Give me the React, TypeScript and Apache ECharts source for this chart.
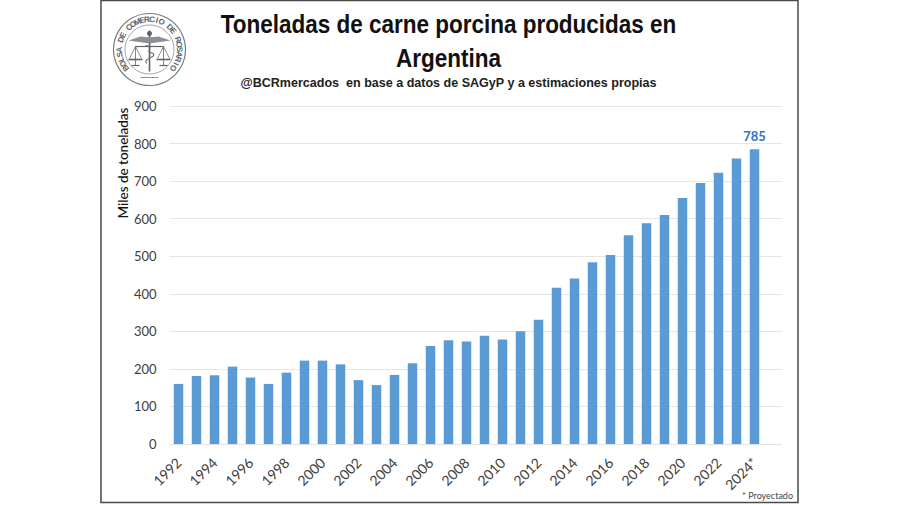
import React, { useEffect, useRef } from "react";
import * as echarts from "echarts";

const years = [
  "1992","1993","1994","1995","1996","1997","1998","1999","2000","2001","2002",
  "2003","2004","2005","2006","2007","2008","2009","2010","2011","2012","2013",
  "2014","2015","2016","2017","2018","2019","2020","2021","2022","2023","2024*","",
];
const tons = [
  160,181,183,206,177,160,190,222,222,212,170,157,184,215,261,276,273,288,278,
  300,331,416,441,484,503,556,588,610,655,695,722,760,785,null,
];
const titleLines = "Toneladas de carne porcina producidas en\nArgentina";
const subtitle = "@BCRmercados  en base a datos de SAGyP y a estimaciones propias";
const yName = "Miles de toneladas";
const note = "* Proyectado";
const sealText = "BOLSA DE COMERCIO DE ROSARIO";

const BLUE = "#5B9BD5";

function sealElements() {
  const cx = 149.5, cy = 49.5, grey = "#5f6468";
  const els: any[] = [
    { type: "circle", shape: { cx, cy, r: 36 }, style: { fill: "#fff", stroke: "#777c80", lineWidth: 1.2 } },
    { type: "circle", shape: { cx, cy, r: 24.5 }, style: { fill: "none", stroke: "#8a8f92", lineWidth: 0.8 } },
  ];
  const chars = sealText.split("");
  const start = -128, end = 128;
  chars.forEach((c, i) => {
    const deg = start + ((end - start) * i) / (chars.length - 1);
    const a = (deg * Math.PI) / 180;
    els.push({
      type: "text",
      x: cx + 30 * Math.sin(a),
      y: cy - 30 * Math.cos(a),
      rotation: -a,
      style: { text: c, fill: grey, font: "bold 8px 'Liberation Sans'", align: "center", verticalAlign: "middle" },
    });
  });
  const L = (x1: number, y1: number, x2: number, y2: number, w = 1) => ({
    type: "line", shape: { x1, y1, x2, y2 }, style: { stroke: grey, lineWidth: w },
  });
  els.push(
    L(cx, cy - 19, cx, cy + 22, 1.6),
    L(cx - 14, cy - 3, cx + 14, cy - 3, 1.2),
    { type: "polygon", shape: { points: [[cx - 21, cy - 9], [cx, cy - 6], [cx, cy - 12], [cx - 9, cy - 13]] }, style: { fill: "#8b9094" } },
    { type: "polygon", shape: { points: [[cx + 21, cy - 9], [cx, cy - 6], [cx, cy - 12], [cx + 9, cy - 13]] }, style: { fill: "#8b9094" } },
    { type: "circle", shape: { cx, cy: cy - 16, r: 2.5 }, style: { fill: grey } },
    L(cx - 14, cy - 3, cx - 20, cy + 9, 0.7), L(cx - 14, cy - 3, cx - 8, cy + 9, 0.7),
    L(cx + 14, cy - 3, cx + 20, cy + 9, 0.7), L(cx + 14, cy - 3, cx + 8, cy + 9, 0.7),
    L(cx - 21, cy + 10, cx - 7, cy + 10, 1.6), L(cx + 7, cy + 10, cx + 21, cy + 10, 1.6),
    L(cx - 14, cy - 3, cx - 14, cy + 16, 0.8), L(cx + 14, cy - 3, cx + 14, cy + 16, 0.8),
    L(cx - 18, cy + 16, cx - 10, cy + 16, 1.2), L(cx + 10, cy + 16, cx + 18, cy + 16, 1.2),
    { type: "bezierCurve", shape: { x1: cx - 4, y1: cy - 4, x2: cx + 4, y2: cy + 4, cpx1: cx + 7, cpy1: cy - 2, cpx2: cx - 7, cpy2: cy + 2 }, style: { stroke: grey, fill: "none", lineWidth: 1.1 } },
    { type: "bezierCurve", shape: { x1: cx + 4, y1: cy + 4, x2: cx - 3, y2: cy + 14, cpx1: cx + 7, cpy1: cy + 8, cpx2: cx - 7, cpy2: cy + 9 }, style: { stroke: grey, fill: "none", lineWidth: 1.1 } },
    L(cx - 9, cy + 28, cx + 9, cy + 28, 0.7)
  );
  return els;
}

export default function App() {
  const ref = useRef<HTMLDivElement>(null);
  useEffect(() => {
    document.body.style.margin = "0";
    const chart = echarts.init(ref.current!, undefined, { renderer: "svg" });
    chart.setOption({
      animation: false,
      backgroundColor: "#fff",
      grid: { left: 169.5, top: 106, width: 612, height: 338, containLabel: false },
      xAxis: {
        type: "category",
        data: years,
        axisLine: { lineStyle: { color: "#dfe3e8", width: 1 } },
        axisTick: { show: false },
        axisLabel: {
          interval: 1,
          rotate: 45,
          margin: 16,
          fontFamily: "Lato",
          fontSize: 14,
          color: "#404040",
        },
      },
      yAxis: {
        type: "value",
        min: 0,
        max: 900,
        interval: 100,
        axisLine: { show: false },
        axisTick: { show: false },
        splitLine: { lineStyle: { color: "#e6e6e6", width: 1 } },
        axisLabel: { margin: 13, fontFamily: "Lato", fontSize: 13, color: "#404040" },
      },
      series: [
        {
          type: "bar",
          barWidth: 9.5,
          itemStyle: { color: BLUE },
          data: tons.map((v, i) =>
            i === 32
              ? {
                  value: v,
                  label: {
                    show: true,
                    position: "top",
                    distance: 7,
                    color: "#2E75B6",
                    fontFamily: "Lato",
                    fontWeight: "bold",
                    fontSize: 13,
                  },
                }
              : v
          ),
        },
      ],
      graphic: [
        {
          type: "rect",
          silent: true,
          z: 10,
          shape: { x: 101, y: 0.5, width: 697, height: 502 },
          style: { fill: "none", stroke: "#4a4a4a", lineWidth: 1.5 },
        },
        ...sealElements(),
        {
          type: "text",
          x: 448.5,
          y: 41,
          scaleX: 0.9,
          style: {
            text: titleLines,
            font: "bold 25px 'Liberation Sans'",
            lineHeight: 33.5,
            fill: "#111",
            align: "center",
            verticalAlign: "middle",
          },
        },
        {
          type: "text",
          x: 448.5,
          y: 82.5,
          scaleX: 0.93,
          style: {
            text: subtitle,
            font: "bold 13.5px 'Liberation Sans'",
            fill: "#222",
            align: "center",
            verticalAlign: "middle",
          },
        },
        {
          type: "text",
          x: 123,
          y: 163,
          rotation: Math.PI / 2,
          style: {
            text: yName,
            font: "500 13.5px Lato",
            fill: "#111",
            align: "center",
            verticalAlign: "middle",
          },
        },
        {
          type: "text",
          x: 793,
          y: 495,
          style: {
            text: note,
            font: "9px Lato",
            fill: "#444",
            align: "right",
            verticalAlign: "middle",
          },
        },
      ],
    });
    return () => chart.dispose();
  }, []);
  return <div ref={ref} style={{ width: 900, height: 505 }} />;
}
